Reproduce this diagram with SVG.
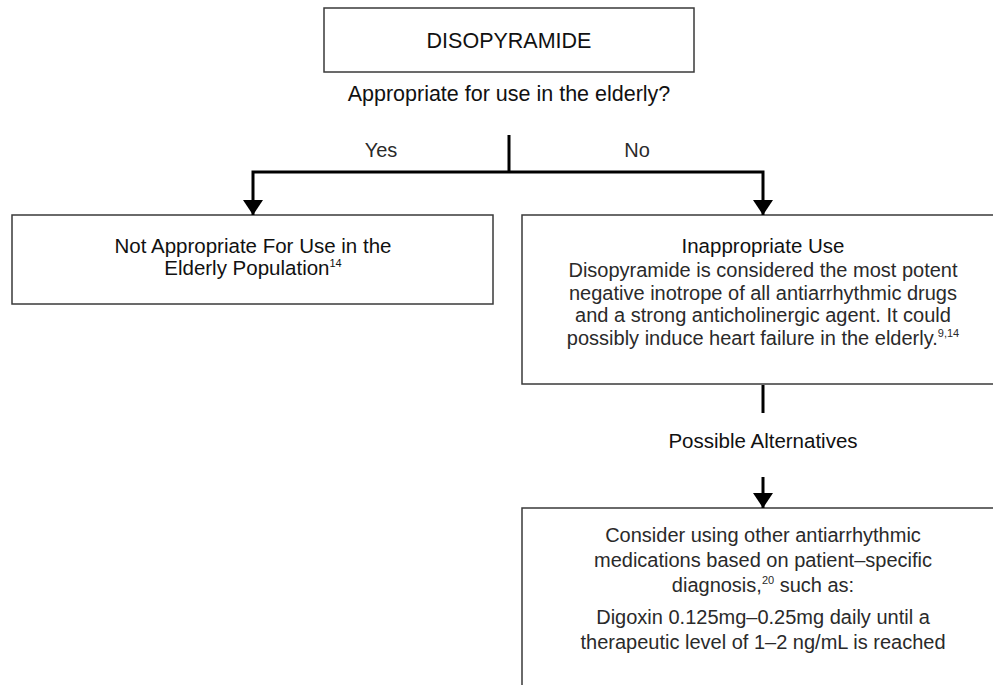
<svg xmlns="http://www.w3.org/2000/svg" width="993" height="685" viewBox="0 0 993 685">
  <style>
    .box { fill: #ffffff; stroke: #3a3a3a; stroke-width: 1.5; }
    .t { font-family: "Liberation Sans", Arial, sans-serif; text-anchor: middle; fill: #111111; }
    .book { font-size: 20.5px; }
    .big { font-size: 21.5px; }
    .light { font-size: 20px; fill: #2a2a2a; }
    .sup { font-size: 11px; }
    .wire { fill: none; stroke: #000000; stroke-width: 3; }
  </style>
  <defs>
    <!-- solid triangular arrowhead; tip sits on the end of the line -->
    <marker id="head" viewBox="0 0 15 20" refX="15" refY="10" markerWidth="15" markerHeight="20" markerUnits="userSpaceOnUse" orient="auto">
      <path d="M0,0 L15,10 L0,20 Z" fill="#000000"/>
    </marker>
  </defs>

  <rect width="993" height="685" fill="#ffffff"/>

  <!-- drug title -->
  <g id="title">
    <rect class="box" x="324" y="8" width="370" height="64"/>
    <text class="t big" x="509" y="48">DISOPYRAMIDE</text>
  </g>

  <g id="question">
    <text class="t big" x="509" y="101">Appropriate for use in the elderly?</text>
  </g>

  <g id="answer-labels">
    <text class="t light" x="381" y="157">Yes</text>
    <text class="t light" x="637" y="157">No</text>
  </g>

  <!-- left outcome -->
  <g id="not-appropriate">
    <rect class="box" x="12" y="215" width="481" height="89"/>
    <text class="t book" x="253" y="253">Not Appropriate For Use in the</text>
    <text class="t book" x="253" y="275">Elderly Population<tspan class="sup" dy="-8">14</tspan></text>
  </g>

  <!-- right outcome -->
  <g id="inappropriate-use">
    <rect class="box" x="522" y="215" width="483" height="169"/>
    <text class="t book" x="763" y="253">Inappropriate Use</text>
    <text class="t light" x="763" y="277">Disopyramide is considered the most potent</text>
    <text class="t light" x="763" y="299.5">negative inotrope of all antiarrhythmic drugs</text>
    <text class="t light" x="763" y="322">and a strong anticholinergic agent. It could</text>
    <text class="t light" x="763" y="344.5">possibly induce heart failure in the elderly.<tspan class="sup" dy="-8">9,14</tspan></text>
  </g>

  <g id="alternatives-label">
    <text class="t book" x="763" y="448">Possible Alternatives</text>
  </g>

  <!-- alternatives -->
  <g id="alternatives">
    <rect class="box" x="522" y="508" width="483" height="200"/>
    <text class="t light" x="763" y="542">Consider using other antiarrhythmic</text>
    <text class="t light" x="763" y="567">medications based on patient–specific</text>
    <text class="t light" x="763" y="592">diagnosis,<tspan class="sup" dy="-8">20</tspan><tspan dy="8"> such as:</tspan></text>
    <text class="t light" x="763" y="624">Digoxin 0.125mg–0.25mg daily until a</text>
    <text class="t light" x="763" y="649">therapeutic level of 1–2 ng/mL is reached</text>
  </g>

  <!-- connectors -->
  <g id="connectors">
    <path class="wire" d="M509,135 V172"/>
    <path class="wire" d="M509,172 H253 V215" marker-end="url(#head)"/>
    <path class="wire" d="M509,172 H763 V215" marker-end="url(#head)"/>
    <path class="wire" d="M763,385 V413"/>
    <path class="wire" d="M763,477 V508" marker-end="url(#head)"/>
  </g>
</svg>
